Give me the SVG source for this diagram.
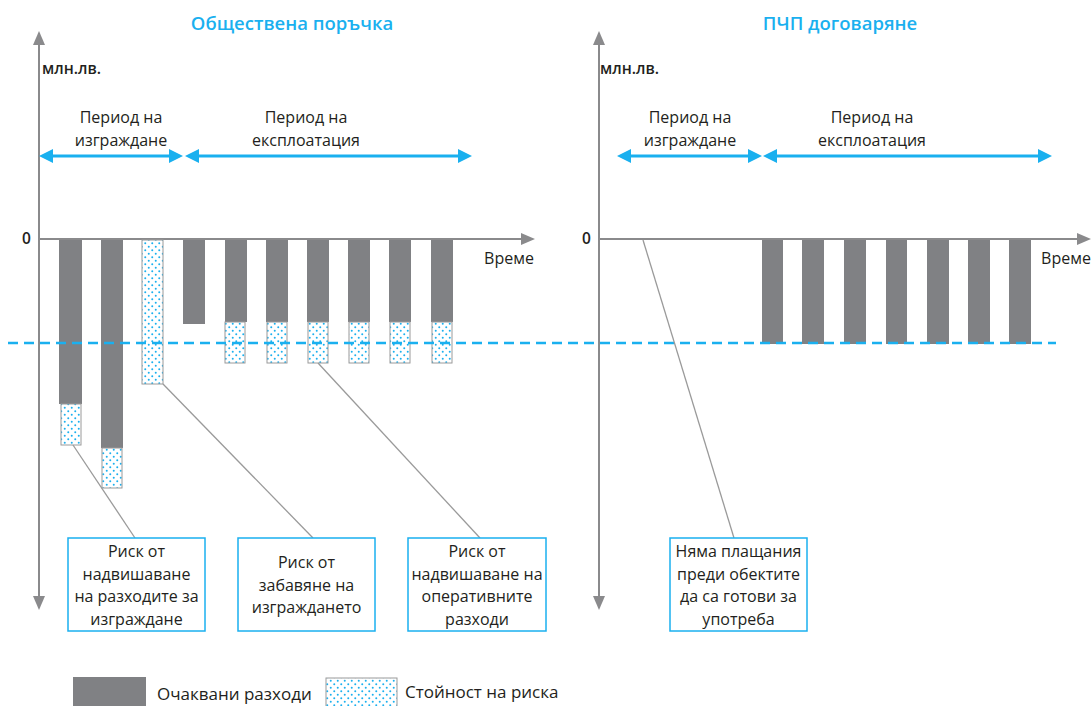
<svg xmlns="http://www.w3.org/2000/svg" width="1091" height="706" viewBox="0 0 1091 706">
<defs>
<pattern id="dots" width="7" height="7" patternUnits="userSpaceOnUse">
<rect width="7" height="7" fill="#ffffff"/>
<circle cx="1.75" cy="1.75" r="1" fill="#1ab0ef"/>
<circle cx="5.25" cy="5.25" r="1" fill="#1ab0ef"/>
</pattern>
<style>
.t{font-family:"Open Sans","Liberation Sans",Arial,sans-serif;font-size:16px;fill:#231f20;text-anchor:middle}
.leg{font-family:"Open Sans","Liberation Sans",Arial,sans-serif;font-size:17px;fill:#231f20}
.title{font-family:"Open Sans","Liberation Sans",Arial,sans-serif;font-size:18.5px;font-weight:600;fill:#1ab0ef;text-anchor:middle}
.unit{font-family:"Open Sans","Liberation Sans",Arial,sans-serif;font-size:15.5px;font-weight:600;fill:#231f20}
.axis{stroke:#8a8a8c;stroke-width:2;fill:none}
.ah{fill:#8a8a8c}
.bar{fill:#808184}
.risk{fill:url(#dots);stroke:#9a9a9a;stroke-width:1}
.box{fill:#ffffff;stroke:#1ab0ef;stroke-width:1.5}
.per{stroke:#1ab0ef;stroke-width:3;fill:none}
.pah{fill:#1ab0ef}
.lead{stroke:#9a9a9a;stroke-width:1.3;fill:none}
.dash{stroke:#1ab0ef;stroke-width:2.5;stroke-dasharray:10 6;fill:none}
</style>
</defs>
<rect width="1091" height="706" fill="#ffffff"/>

<g id="titles">
<text class="title" x="292" y="30">Обществена поръчка</text>
<text class="title" x="840" y="30">ПЧП договаряне</text>
</g>

<g id="axes-left">
<line class="axis" x1="39" y1="42" x2="39" y2="598"/>
<polygon class="ah" points="39,31 33,45 45,45"/>
<polygon class="ah" points="39,610 33,596 45,596"/>
<line class="axis" x1="39" y1="239" x2="522" y2="239"/>
<polygon class="ah" points="535,239 521,233 521,245"/>
<text class="unit" x="42" y="74">млн.лв.</text>
<text class="unit" x="22" y="244">0</text>
<text class="t" x="509" y="264">Време</text>
</g>

<g id="axes-right">
<line class="axis" x1="599" y1="42" x2="599" y2="598"/>
<polygon class="ah" points="599,31 593,45 605,45"/>
<polygon class="ah" points="599,610 593,596 605,596"/>
<line class="axis" x1="599" y1="239" x2="1078" y2="239"/>
<polygon class="ah" points="1091,239 1077,233 1077,245"/>
<text class="unit" x="600" y="74">млн.лв.</text>
<text class="unit" x="582" y="244">0</text>
<text class="t" x="1066" y="264">Време</text>
</g>

<g id="periods-left">
<line class="per" x1="50" y1="156" x2="172" y2="156"/>
<polygon class="pah" points="39,156 53,149 53,163"/>
<polygon class="pah" points="183,156 169,149 169,163"/>
<line class="per" x1="196" y1="156" x2="461" y2="156"/>
<polygon class="pah" points="185,156 199,149 199,163"/>
<polygon class="pah" points="472,156 458,149 458,163"/>
<text class="t" x="121" y="123">Период на</text>
<text class="t" x="121" y="146">изграждане</text>
<text class="t" x="306" y="123">Период на</text>
<text class="t" x="306" y="146">експлоатация</text>
</g>

<g id="periods-right">
<line class="per" x1="628" y1="156" x2="751" y2="156"/>
<polygon class="pah" points="617,156 631,149 631,163"/>
<polygon class="pah" points="762,156 748,149 748,163"/>
<line class="per" x1="774" y1="156" x2="1041" y2="156"/>
<polygon class="pah" points="763,156 777,149 777,163"/>
<polygon class="pah" points="1052,156 1038,149 1038,163"/>
<text class="t" x="690" y="123">Период на</text>
<text class="t" x="690" y="146">изграждане</text>
<text class="t" x="872" y="123">Период на</text>
<text class="t" x="872" y="146">експлоатация</text>
</g>

<g id="bars-left">
<rect class="bar" x="59" y="240" width="23" height="164"/>
<rect class="risk" x="61" y="404" width="20" height="41"/>
<rect class="bar" x="101" y="240" width="22" height="208"/>
<rect class="risk" x="102" y="448" width="20" height="40"/>
<rect class="risk" x="142" y="240" width="21" height="144"/>
<rect class="bar" x="183" y="240" width="22" height="84"/>
<rect class="bar" x="225" y="240" width="22" height="82"/>
<rect class="risk" x="225" y="322" width="20" height="41"/>
<rect class="bar" x="266" y="240" width="22" height="82"/>
<rect class="risk" x="267" y="322" width="20" height="41"/>
<rect class="bar" x="307" y="240" width="22" height="82"/>
<rect class="risk" x="308" y="322" width="20" height="41"/>
<rect class="bar" x="348" y="240" width="22" height="82"/>
<rect class="risk" x="349" y="322" width="20" height="41"/>
<rect class="bar" x="389" y="240" width="22" height="82"/>
<rect class="risk" x="390" y="322" width="20" height="41"/>
<rect class="bar" x="431" y="240" width="22" height="82"/>
<rect class="risk" x="432" y="322" width="20" height="41"/>
</g>

<g id="bars-right">
<rect class="bar" x="762" y="240" width="21" height="104"/>
<rect class="bar" x="802" y="240" width="22" height="104"/>
<rect class="bar" x="844" y="240" width="22" height="104"/>
<rect class="bar" x="886" y="240" width="21" height="104"/>
<rect class="bar" x="927" y="240" width="22" height="104"/>
<rect class="bar" x="968" y="240" width="22" height="104"/>
<rect class="bar" x="1009" y="240" width="22" height="104"/>
</g>

<g id="threshold">
<line class="dash" x1="8" y1="343" x2="1056" y2="343"/>
</g>

<g id="connectors">
<line class="lead" x1="73" y1="445" x2="135" y2="538"/>
<line class="lead" x1="163" y1="384" x2="313" y2="538"/>
<line class="lead" x1="318" y1="363" x2="480" y2="538"/>
<line class="lead" x1="643" y1="240" x2="734" y2="538"/>
</g>

<g id="box1">
<rect class="box" x="68" y="538" width="137" height="93"/>
<text class="t" x="136.5" y="557">Риск от</text>
<text class="t" x="136.5" y="580">надвишаване</text>
<text class="t" x="136.5" y="602">на разходите за</text>
<text class="t" x="136.5" y="625">изграждане</text>
</g>
<g id="box2">
<rect class="box" x="238" y="538" width="137" height="93"/>
<text class="t" x="306.5" y="568">Риск от</text>
<text class="t" x="306.5" y="591">забавяне на</text>
<text class="t" x="306.5" y="613">изграждането</text>
</g>
<g id="box3">
<rect class="box" x="408" y="538" width="138" height="93"/>
<text class="t" x="477" y="557">Риск от</text>
<text class="t" x="477" y="580">надвишаване на</text>
<text class="t" x="477" y="602">оперативните</text>
<text class="t" x="477" y="625">разходи</text>
</g>
<g id="box4">
<rect class="box" x="670" y="538" width="137" height="93"/>
<text class="t" x="738.5" y="557">Няма плащания</text>
<text class="t" x="738.5" y="580">преди обектите</text>
<text class="t" x="738.5" y="602">да са готови за</text>
<text class="t" x="738.5" y="625">употреба</text>
</g>

<g id="legend">
<rect class="bar" x="73" y="677" width="73" height="30"/>
<text class="leg" x="157" y="700">Очаквани разходи</text>
<rect class="risk" x="326" y="678" width="71" height="30"/>
<text class="leg" x="405" y="698">Стойност на риска</text>
</g>
</svg>
